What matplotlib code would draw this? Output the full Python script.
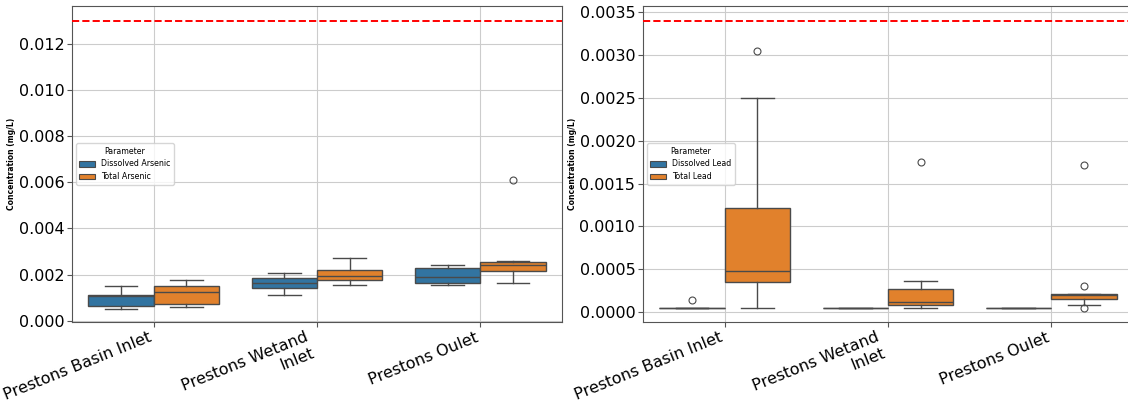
import matplotlib
matplotlib.use("Agg")
import matplotlib.pyplot as plt
from matplotlib.patches import Patch

# Sampling sites
sites = ["Prestons Basin Inlet", "Prestons Wetand\nInlet", "Prestons Oulet"]

# Box statistics per site: [whisker low, Q1, median, Q3, whisker high]
arsenic_dissolved = [
    [0.00051, 0.00065, 0.00108, 0.00113, 0.00152],
    [0.00113, 0.00144, 0.00166, 0.00185, 0.00209],
    [0.00155, 0.00163, 0.00189, 0.00228, 0.00240],
]
arsenic_total = [
    [0.00058, 0.00074, 0.00123, 0.00149, 0.00176],
    [0.00155, 0.00176, 0.00192, 0.00222, 0.00270],
    [0.00166, 0.00215, 0.00241, 0.00254, 0.00257],
]
arsenic_dissolved_fliers = [[], [], []]
arsenic_total_fliers = [[], [], [0.00611]]
arsenic_guideline = 0.013

lead_dissolved = [
    [0.00005, 0.00005, 0.00005, 0.00005, 0.00005],
    [0.00005, 0.00005, 0.00005, 0.00005, 0.00005],
    [0.00005, 0.00005, 0.00005, 0.00005, 0.00005],
]
lead_total = [
    [0.00005, 0.000353, 0.000477, 0.00121, 0.0025],
    [0.00005, 0.000085, 0.000116, 0.000267, 0.00036],
    [0.000085, 0.000155, 0.00020, 0.00021, 0.00021],
]
lead_dissolved_fliers = [[0.000147], [], []]
lead_total_fliers = [[0.00305], [0.00175], [0.00172, 0.00030, 0.00005]]
lead_guideline = 0.0034

params_arsenic = ["Dissolved Arsenic", "Total Arsenic"]
params_lead = ["Dissolved Lead", "Total Lead"]

colors = ["#3274a1", "#e1812c"]
line_col = "#4a4a4a"


def make_stats(rows, fliers):
    out = []
    for (lo, q1, med, q3, hi), fl in zip(rows, fliers):
        out.append(dict(whislo=lo, q1=q1, med=med, q3=q3, whishi=hi, fliers=fl))
    return out


def draw_panel(ax, series, fliers, names, guideline):
    offsets = [-0.2, 0.2]
    for k, (rows, fl) in enumerate(zip(series, fliers)):
        stats = make_stats(rows, fl)
        pos = [i + offsets[k] for i in range(len(sites))]
        ax.bxp(
            stats, positions=pos, widths=0.4, patch_artist=True,
            manage_ticks=False,
            boxprops=dict(facecolor=colors[k], edgecolor=line_col, linewidth=1.0),
            medianprops=dict(color=line_col, linewidth=1.0),
            whiskerprops=dict(color=line_col, linewidth=1.0),
            capprops=dict(color=line_col, linewidth=1.0),
            capwidths=0.2,
            flierprops=dict(marker="o", markerfacecolor="none",
                            markeredgecolor=line_col, markersize=5,
                            markeredgewidth=0.8),
            zorder=3,
        )
    ax.axhline(guideline, color="red", linestyle="--", linewidth=1.4, zorder=4)
    ax.set_xlim(-0.5, len(sites) - 0.5)
    ax.set_xticks(range(len(sites)))
    ax.set_xticklabels(sites, rotation=22, ha="right", fontsize=11.5)
    ax.tick_params(axis="both", labelsize=11.5, pad=2, length=3.5,
                   color="#555555")
    ax.grid(True, color="#cccccc", linewidth=0.8)
    ax.set_axisbelow(True)
    ax.set_ylabel("Concentration (mg/L)", fontsize=5.5, fontweight="bold",
                  labelpad=2)
    handles = [Patch(facecolor=colors[k], edgecolor=line_col, linewidth=0.8,
                     label=names[k]) for k in range(2)]
    ax.legend(handles=handles, title="Parameter", loc="center left",
              fontsize=5.7, title_fontsize=5.7)
    for s in ax.spines.values():
        s.set_color("#555555")


fig = plt.figure(figsize=(11.28, 4.05), dpi=100)
ax1 = fig.add_axes([72 / 1128, 83 / 405, 490 / 1128, 316 / 405])
ax2 = fig.add_axes([643 / 1128, 83 / 405, 490 / 1128, 316 / 405])

draw_panel(ax1, [arsenic_dissolved, arsenic_total],
           [arsenic_dissolved_fliers, arsenic_total_fliers],
           params_arsenic, arsenic_guideline)
ax1.set_ylim(-0.00005, 0.01363)

draw_panel(ax2, [lead_dissolved, lead_total],
           [lead_dissolved_fliers, lead_total_fliers],
           params_lead, lead_guideline)
ax2.set_ylim(-0.000115, 0.00357)

fig.savefig("out.png", dpi=100)
